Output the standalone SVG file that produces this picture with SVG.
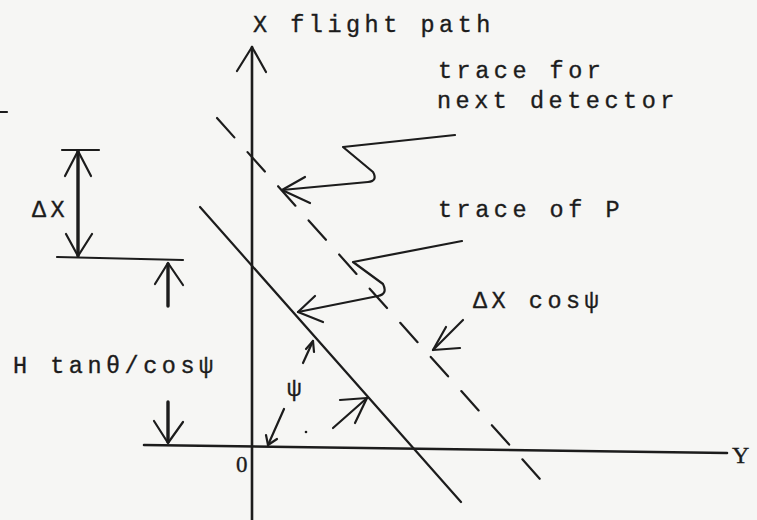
<svg xmlns="http://www.w3.org/2000/svg" width="757" height="520" viewBox="0 0 757 520">
<style>
  .t { font-family: "Liberation Mono", "DejaVu Sans Mono", monospace; font-size: 23.5px; letter-spacing: 4.5px; fill: #1c1c1c; stroke: #1c1c1c; stroke-width: 0.35; }
  .ln { stroke: #1c1c1c; stroke-width: 2.2; fill: none; stroke-linecap: round; stroke-linejoin: round; }
  .ax { stroke: #1c1c1c; stroke-width: 2.6; fill: none; stroke-linecap: round; }
  .th { stroke: #1c1c1c; stroke-width: 3.4; fill: none; stroke-linecap: round; }
</style>
<rect width="757" height="520" fill="#f6f6f4"/>

<g id="axes">
  <line class="ax" x1="252" y1="47" x2="252" y2="520"/>
  <polyline class="ln" points="237,71 252,47 266,72"/>
  <line class="ax" x1="144" y1="445" x2="727" y2="453"/>
  <text class="t" x="236" y="472" style="font-family:'Liberation Serif',serif;font-size:23px">0</text>
  <text class="t" x="732" y="463" style="font-family:'Liberation Serif',serif;font-size:24px">Y</text>
  <text class="t" x="253" y="32">X flight path</text>
</g>

<g id="trace-of-P">
  <line class="ln" x1="200" y1="207" x2="461" y2="502"/>
</g>

<g id="trace-next-detector">
  <line class="ln" x1="217" y1="118" x2="548" y2="488" stroke-dasharray="26 19.8"/>
</g>

<g id="label-next-detector">
  <text class="t" x="438" y="78">trace for</text>
  <text class="t" x="437" y="108">next detector</text>
</g>

<g id="label-trace-of-P">
  <text class="t" x="438" y="217">trace of P</text>
</g>

<g id="label-dx-cos">
  <text class="t" x="473" y="308">ΔX cosψ</text>
</g>

<g id="dim-dx">
  <line class="ln" x1="62" y1="150" x2="99" y2="150"/>
  <line class="th" x1="78" y1="151" x2="78" y2="256"/>
  <polyline class="ln" points="65,176 78,151 91,176"/>
  <polyline class="ln" points="66,234 78,256 92,234"/>
  <line class="ln" x1="57" y1="257" x2="183" y2="260"/>
  <text class="t" x="32" y="217">ΔX</text>
</g>

<g id="dim-h">
  <line class="th" x1="168" y1="264" x2="168" y2="306"/>
  <polyline class="ln" points="155,284 168,263 183,285"/>
  <line class="th" x1="168" y1="402" x2="168" y2="442"/>
  <polyline class="ln" points="154,421 168,443 183,422"/>
  <text class="t" x="13" y="373">H tanθ/cosψ</text>
</g>

<g id="connectors">
  <path class="ln" d="M455,135 L343,147 L373,172 Q378,181 368,182 L282,190"/>
  <polyline class="ln" points="305,177 282,190 310,203"/>
  <path class="ln" d="M462,241 L353,262 L383,284 Q388,294 378,296 L298,312"/>
  <polyline class="ln" points="315,296 298,312 323,322"/>
  <line class="ln" x1="463" y1="320" x2="433" y2="350"/>
  <polyline class="ln" points="446,327 433,350 460,348"/>
  <line class="ln" x1="303" y1="363" x2="313" y2="341"/>
  <polyline class="ln" points="306,349 313,341 314,352"/>
  <line class="ln" x1="284" y1="409" x2="268" y2="445"/>
  <polyline class="ln" points="266,435 268,445 277,439"/>
  <line class="ln" x1="333" y1="428" x2="367" y2="398"/>
  <polyline class="ln" points="340,400 367,398 355,423"/>
  <text class="t" x="287" y="396" style="font-size:24px">ψ</text>
  <circle cx="306" cy="432" r="1.3" fill="#1c1c1c"/>
  <line class="ln" x1="0" y1="112" x2="7" y2="112"/>
</g>
</svg>
